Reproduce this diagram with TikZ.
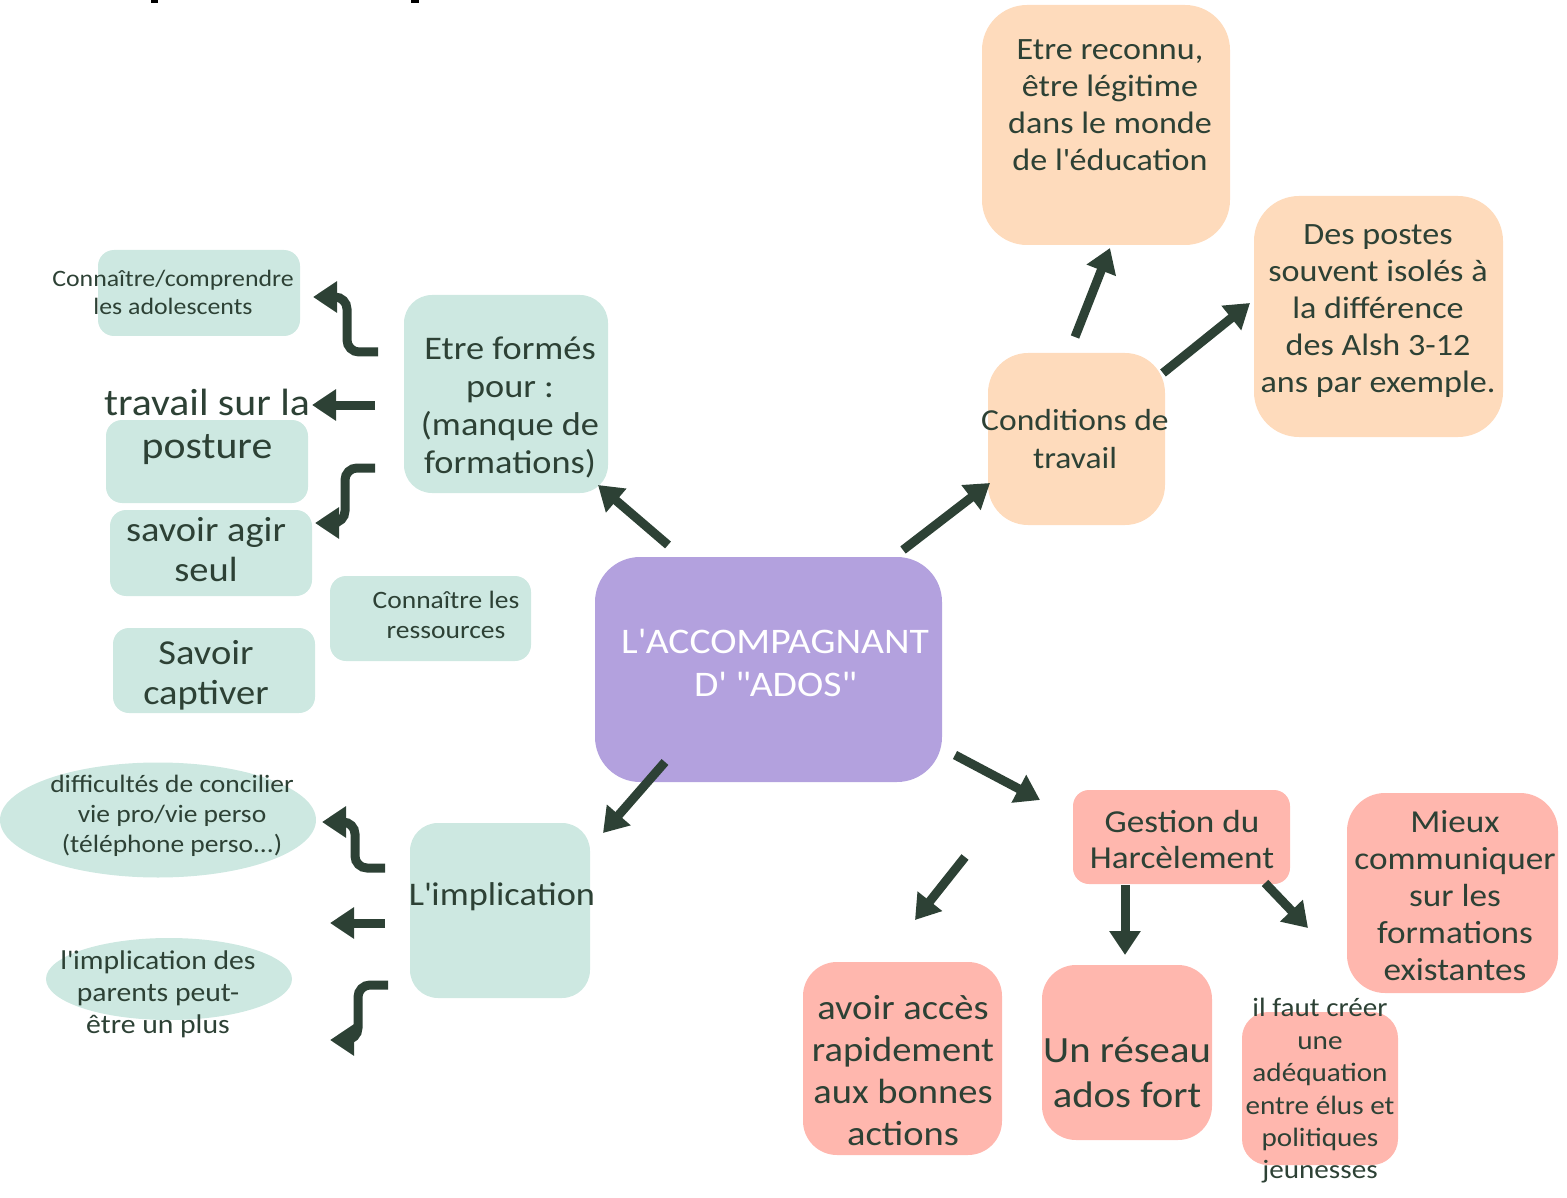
\documentclass[tikz,border=0pt]{standalone}
\usepackage{fontspec}
\setmainfont{Carlito}[FakeStretch=1.1]
\usetikzlibrary{arrows.meta,shapes.geometric}
\definecolor{tealc}{HTML}{CDE8E1}
\definecolor{purc}{HTML}{B3A1DE}
\definecolor{peachc}{HTML}{FEDBBC}
\definecolor{salc}{HTML}{FFB7AE}
\definecolor{darkc}{HTML}{2D4135}
\newcommand{\fsz}[2]{\fontsize{#1}{#2}\selectfont}
\newcommand{\sq}{\textquotesingle}
\newcommand{\dq}{\textquotedbl}
\begin{document}
\begin{tikzpicture}[x=1pt,y=-1pt,
  box/.style={inner sep=0pt, rounded corners=28pt},
  tbox/.style={box, fill=tealc},
  pbox/.style={box, fill=peachc, rounded corners=40pt},
  sbox/.style={box, fill=salc, rounded corners=30pt},
  tell/.style={ellipse, fill=tealc, inner sep=0pt},
  lab/.style={text=darkc, align=center, inner sep=0pt},
  arr/.style={draw=darkc, line width=9pt, rounded corners=12pt, -{Triangle[length=24pt,width=30pt]}},
]
\useasboundingbox (0,0) rectangle (1567,1198);
\fill[black] (150.5,0) rectangle (158,2.7);
\fill[black] (411,0) rectangle (418.5,2.7);

% boxes
\node[box, fill=purc, rounded corners=45pt, minimum width=347, minimum height=225] (center) at (768.5,669.5) {};
\node[tbox, minimum width=204, minimum height=198] (formes) at (506,394) {};
\node[tbox, rounded corners=16pt, minimum width=202, minimum height=86] (conn) at (199,293) {};
\node[tbox, rounded corners=16pt, minimum width=202, minimum height=83] (post) at (207,461.5) {};
\node[tbox, rounded corners=16pt, minimum width=202, minimum height=86] (seul) at (211,553) {};
\node[tbox, rounded corners=16pt, minimum width=201, minimum height=85] (ress) at (430.5,618.5) {};
\node[tbox, rounded corners=16pt, minimum width=202, minimum height=85] (capt) at (214,670.5) {};
\node[tbox, minimum width=180, minimum height=175] (impl) at (500,910.5) {};
\node[tell, minimum width=316, minimum height=115] (diff) at (158,820) {};
\node[tell, minimum width=246, minimum height=82] (par) at (169,979) {};
\node[pbox, minimum width=177, minimum height=172] (cond) at (1076.5,439) {};
\node[pbox, rounded corners=45pt, minimum width=248, minimum height=240] (reco) at (1106,125) {};
\node[pbox, rounded corners=45pt, minimum width=249, minimum height=241] (iso) at (1378.5,316.5) {};
\node[sbox, rounded corners=16pt, minimum width=217, minimum height=94] (harc) at (1181.5,837) {};
\node[sbox, rounded corners=38pt, minimum width=211, minimum height=200] (mieux) at (1452.5,893) {};
\node[sbox, rounded corners=34pt, minimum width=199, minimum height=193] (acces) at (902.5,1058.5) {};
\node[sbox, rounded corners=34pt, minimum width=170, minimum height=175] (reseau) at (1127,1052.5) {};
\node[sbox, rounded corners=26pt, minimum width=156, minimum height=153] (elus) at (1320,1088.5) {};

% texts
\node[lab, text=white, font=\fsz{36}{43}] (centerT) at (775,663) {L\sq ACCOMPAGNANT\\D\sq{} \dq ADOS\dq};
\node[lab, font=\fsz{33}{38}] (formesT) at (510,407.5) {Etre formés\\pour :\\(manque de\\formations)};
\node[lab, font=\fsz{23.5}{28}] (connT) at (173,292) {Connaître/comprendre\\les adolescents};
\node[lab, font=\fsz{38}{43}] (postT) at (207,426.5) {travail sur la\\posture};
\node[lab, font=\fsz{35}{40}] (seulT) at (206,550) {savoir agir\\seul};
\node[lab, font=\fsz{25}{30}] (ressT) at (446,615) {Connaître les\\ressources};
\node[lab, font=\fsz{35}{40}] (captT) at (206,675) {Savoir\\captiver};
\node[lab, font=\fsz{33}{40}] (implT) at (502,897) {L\sq implication};
\node[lab, font=\fsz{25}{30}] (diffT) at (172,816) {difficultés de concilier\\vie pro/vie perso\\(téléphone perso...)};
\node[lab, font=\fsz{27}{32}] (parT) at (158,994) {l\sq implication des\\parents peut-\\être un plus};
\node[lab, font=\fsz{30.5}{38}] (condT) at (1075,439) {Conditions de\\travail};
\node[lab, font=\fsz{31}{37}] (recoT) at (1110,105) {Etre reconnu,\\être légitime\\dans le monde\\de l\sq éducation};
\node[lab, font=\fsz{31}{37}] (isoT) at (1378,311.5) {Des postes\\souvent isolés à\\la différence\\des Alsh 3-12\\ans par exemple.};
\node[lab, font=\fsz{32}{36}] (harcT) at (1182,840) {Gestion du\\Harcèlement};
\node[lab, font=\fsz{32}{37}] (mieuxT) at (1455,896) {Mieux\\communiquer\\sur les\\formations\\existantes};
\node[lab, font=\fsz{35}{42}] (accesT) at (903,1070.5) {avoir accès\\rapidement\\aux bonnes\\actions};
\node[lab, font=\fsz{37}{45}] (reseauT) at (1127,1072.5) {Un réseau\\ados fort};
\node[lab, font=\fsz{26.5}{32.4}] (elusT) at (1320,1091) {il faut créer\\une\\adéquation\\entre élus et\\politiques\\jeunesses};

% arrow end points
\coordinate (a1s) at (668,545); \coordinate (a1e) at (598,485);
\coordinate (a2s) at (903,550); \coordinate (a2e) at (990,483);
\coordinate (a3s) at (665,762); \coordinate (a3e) at (603,833);
\coordinate (a4s) at (955,755); \coordinate (a4e) at (1040,800);
\coordinate (a5s) at (1075,337); \coordinate (a5e) at (1110,248);
\coordinate (a6s) at (1163,373); \coordinate (a6e) at (1250,303);
\coordinate (a7s) at (1125,885); \coordinate (a7e) at (1125,955);
\coordinate (a8s) at (1265,883); \coordinate (a8e) at (1308,928);
\coordinate (a9s) at (965,857); \coordinate (a9e) at (915,920);

\draw[arr] (a1s) -- (a1e);
\draw[arr] (a2s) -- (a2e);
\draw[arr] (a3s) -- (a3e);
\draw[arr] (a4s) -- (a4e);
\draw[arr] (a5s) -- (a5e);
\draw[arr] (a6s) -- (a6e);
\draw[arr] (a7s) -- (a7e);
\draw[arr] (a8s) -- (a8e);
\draw[arr] (a9s) -- (a9e);

% elbow arrows (Etre formés)
\coordinate (e1s) at (378,352); \coordinate (e1e) at (313,297);
\coordinate (e2s) at (375,405); \coordinate (e2e) at (312,405);
\coordinate (e3s) at (375,468); \coordinate (e3e) at (315,523);
\draw[arr] (e1s) -- (347,352) -- (347,297) -- (e1e);
\draw[arr] (e2s) -- (e2e);
\draw[arr] (e3s) -- (345,468) -- (345,523) -- (e3e);

% elbow arrows (L'implication)
\coordinate (i1s) at (385,868); \coordinate (i1e) at (322,822);
\coordinate (i2s) at (385,923); \coordinate (i2e) at (330,923);
\coordinate (i3s) at (388,985); \coordinate (i3e) at (330,1040);
\draw[arr] (i1s) -- (355,868) -- (355,822) -- (i1e);
\draw[arr] (i2s) -- (i2e);
\draw[arr] (i3s) -- (358,985) -- (358,1040) -- (i3e);
\end{tikzpicture}
\end{document}
